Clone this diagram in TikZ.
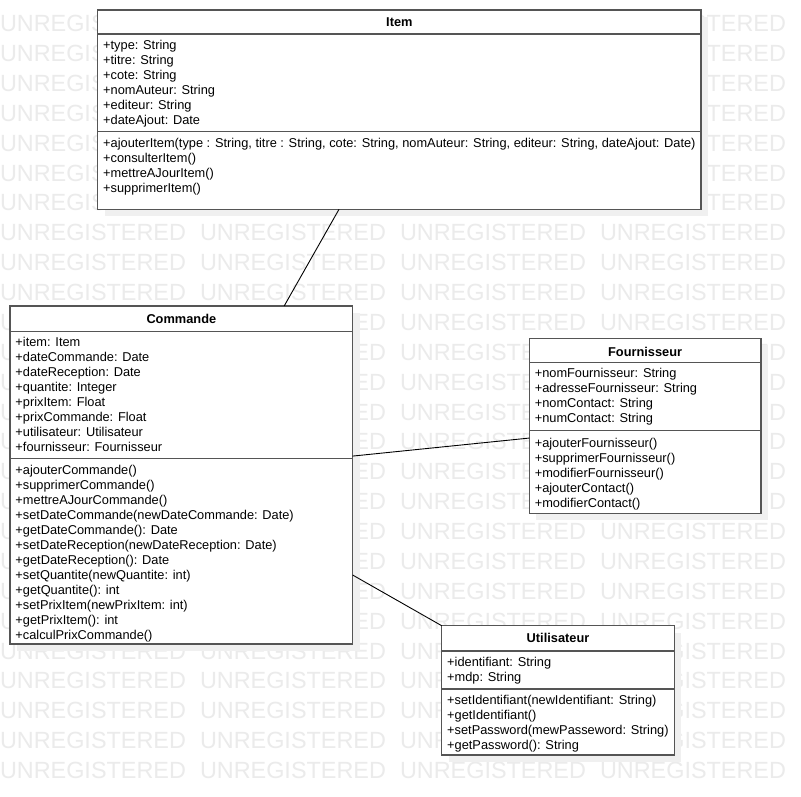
\documentclass[tikz,border=0pt]{standalone}
\usepackage{fontspec}
\setmainfont{Liberation Sans}
\usetikzlibrary{calc}
\definecolor{wm}{RGB}{235,235,235}
\definecolor{shadowc}{RGB}{240,240,240}
\definecolor{boxc}{RGB}{85,85,85}
\begin{document}
\begin{tikzpicture}[x=1pt,y=-1pt,
  umlbox/.style={draw=boxc, line width=1.4pt, fill=white, rectangle, inner sep=0pt, outer sep=0pt, anchor=north west},
  txt/.style={anchor=base west, inner sep=0pt, outer sep=0pt, font=\fontsize{12.8}{15}\selectfont},
  ttl/.style={anchor=base, inner sep=0pt, outer sep=0pt, font=\fontsize{12.8}{15}\selectfont\bfseries},
  sepline/.style={draw=boxc, line width=1.4pt},
  shadowbox/.style={fill=shadowc},
  wmtext/.style={anchor=base west, inner sep=0pt, outer sep=0pt, text=wm, font=\fontsize{23.4}{28}\selectfont},
  link/.style={draw=black, line width=0.9pt}]
\useasboundingbox (0,0) rectangle (801,796);
\fill[white] (0,0) rectangle (801,796);
% watermark
\foreach \r in {0,...,25}{
  \foreach \c in {0,...,3}{
    \node[wmtext] (wm-\r-\c) at ({200*\c}, {31.75+29.87*\r}) {UNREGISTERED};
  }
}
% shadows
\fill[shadowbox] (104.7,17) rectangle (708,216.3);
\fill[shadowbox] (17,313) rectangle (359.7,651);
\fill[shadowbox] (536.3,345.3) rectangle (768,520.3);
\fill[shadowbox] (448.7,632.7) rectangle (681.3,762);
% Item
\node[umlbox, minimum width=603.3pt, minimum height=199.3pt] (item) at (97.7,10) {};
\draw[sepline] (97.7,34) -- (701,34);
\draw[sepline] (97.7,131.7) -- (701,131.7);
\node[ttl] (itemT) at (399.35,26.5) {Item};
\foreach \t [count=\i] in {{+type: String},{+titre: String},{+cote: String},{+nomAuteur: String},{+editeur: String},{+dateAjout: Date}}
  \node[txt] (itemA\i) at (103.2,{49.5+15*(\i-1)}) {\t};
\foreach \t [count=\i] in {{+ajouterItem(type : String, titre : String, cote: String, nomAuteur: String, editeur: String, dateAjout: Date)},{+consulterItem()},{+mettreAJourItem()},{+supprimerItem()}}
  \node[txt] (itemM\i) at (103.2,{147.8+15*(\i-1)}) {\t};
% Commande
\node[umlbox, minimum width=342.7pt, minimum height=338pt] (commande) at (10,306) {};
\draw[sepline] (10,331.7) -- (352.7,331.7);
\draw[sepline] (10,458.3) -- (352.7,458.3);
\node[ttl] (commandeT) at (181.35,323.8) {Commande};
\foreach \t [count=\i] in {{+item: Item},{+dateCommande: Date},{+dateReception: Date},{+quantite: Integer},{+prixItem: Float},{+prixCommande: Float},{+utilisateur: Utilisateur},{+fournisseur: Fournisseur}}
  \node[txt] (commandeA\i) at (15.5,{346.2+15*(\i-1)}) {\t};
\foreach \t [count=\i] in {{+ajouterCommande()},{+supprimerCommande()},{+mettreAJourCommande()},{+setDateCommande(newDateCommande: Date)},{+getDateCommande(): Date},{+setDateReception(newDateReception: Date)},{+getDateReception(): Date},{+setQuantite(newQuantite: int)},{+getQuantite(): int},{+setPrixItem(newPrixItem: int)},{+getPrixItem(): int},{+calculPrixCommande()}}
  \node[txt] (commandeM\i) at (15.5,{474.5+15*(\i-1)}) {\t};
% Fournisseur
\node[umlbox, minimum width=231.7pt, minimum height=175pt] (fournisseur) at (529.3,338.3) {};
\draw[sepline] (529.3,362.7) -- (761,362.7);
\draw[sepline] (529.3,430.7) -- (761,430.7);
\node[ttl] (fournisseurT) at (645.15,356.2) {Fournisseur};
\foreach \t [count=\i] in {{+nomFournisseur: String},{+adresseFournisseur: String},{+nomContact: String},{+numContact: String}}
  \node[txt] (fournisseurA\i) at (534.8,{377.8+15*(\i-1)}) {\t};
\foreach \t [count=\i] in {{+ajouterFournisseur()},{+supprimerFournisseur()},{+modifierFournisseur()},{+ajouterContact()},{+modifierContact()}}
  \node[txt] (fournisseurM\i) at (534.8,{447.8+15*(\i-1)}) {\t};
% Utilisateur
\node[umlbox, minimum width=232.6pt, minimum height=129.3pt] (utilisateur) at (441.7,625.7) {};
\draw[sepline] (441.7,651) -- (674.3,651);
\draw[sepline] (441.7,689) -- (674.3,689);
\node[ttl] (utilisateurT) at (558,642.8) {Utilisateur};
\foreach \t [count=\i] in {{+identifiant: String},{+mdp: String}}
  \node[txt] (utilisateurA\i) at (447.2,{666.2+15*(\i-1)}) {\t};
\foreach \t [count=\i] in {{+setIdentifiant(newIdentifiant: String)},{+getIdentifiant()},{+setPassword(mewPasseword: String)},{+getPassword(): String}}
  \node[txt] (utilisateurM\i) at (447.2,{704.5+15*(\i-1)}) {\t};
% connectors
\draw[link] ($(item.south west)!0.4!(item.south east)$) -- ($(commande.north west)!0.8!(commande.north east)$);
\draw[link] ($(commande.north east)!0.444!(commande.south east)$) -- ($(fournisseur.north west)!0.57!(fournisseur.south west)$);
\draw[link] ($(commande.north east)!0.796!(commande.south east)$) -- (utilisateur.north west);
\end{tikzpicture}
\end{document}
